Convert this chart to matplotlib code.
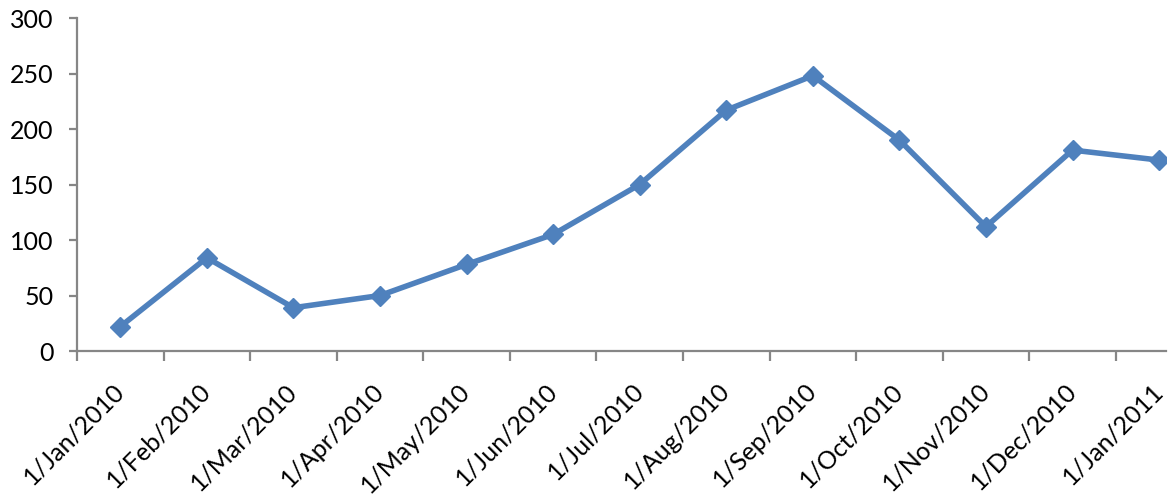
import matplotlib
matplotlib.use("Agg")
import matplotlib.pyplot as plt

# Monthly series
dates = ["1/Jan/2010", "1/Feb/2010", "1/Mar/2010", "1/Apr/2010", "1/May/2010",
         "1/Jun/2010", "1/Jul/2010", "1/Aug/2010", "1/Sep/2010", "1/Oct/2010",
         "1/Nov/2010", "1/Dec/2010", "1/Jan/2011"]
values = [22, 84, 39, 50, 78, 105, 150, 217, 248, 190, 112, 181, 172]
y_ticks = [0, 50, 100, 150, 200, 250, 300]

plt.rcParams['font.family'] = ['Lato', 'DejaVu Sans']

fig = plt.figure(figsize=(11.72, 4.96), dpi=100)
ax = fig.add_axes([0.0657, 0.2923, 0.9292, 0.6714])

line_color = "#4F81BD"
axis_color = "#868686"

x = list(range(len(dates)))
ax.plot(x, values, color=line_color, linewidth=4.0, marker="D",
        markersize=10, markerfacecolor=line_color, markeredgecolor=line_color,
        solid_joinstyle="round", zorder=3)

ax.set_ylim(0, 300)
ax.set_xlim(-0.5, 12.08)
ax.set_yticks(y_ticks)
ax.set_yticklabels([str(t) for t in y_ticks])

# Tick marks between categories, labels centred on categories
ax.set_xticks([i - 0.5 for i in x])
ax.set_xticklabels([])
ax.set_xticks(x, minor=True)
ax.set_xticklabels(dates, minor=True, rotation=45, ha="right", va="center",
                   rotation_mode="anchor")

for side in ("top", "right"):
    ax.spines[side].set_visible(False)
for side in ("left", "bottom"):
    ax.spines[side].set_color(axis_color)
    ax.spines[side].set_linewidth(1.6)

ax.tick_params(axis="y", which="major", direction="out", length=6,
               width=1.6, color=axis_color, pad=11, labelsize=18,
               labelcolor="black")
ax.tick_params(axis="x", which="major", direction="out", length=7,
               width=1.6, color=axis_color)
ax.tick_params(axis="x", which="minor", length=0, pad=26, labelsize=18,
               labelcolor="black")

fig.savefig("out.png", dpi=100, facecolor="white")
